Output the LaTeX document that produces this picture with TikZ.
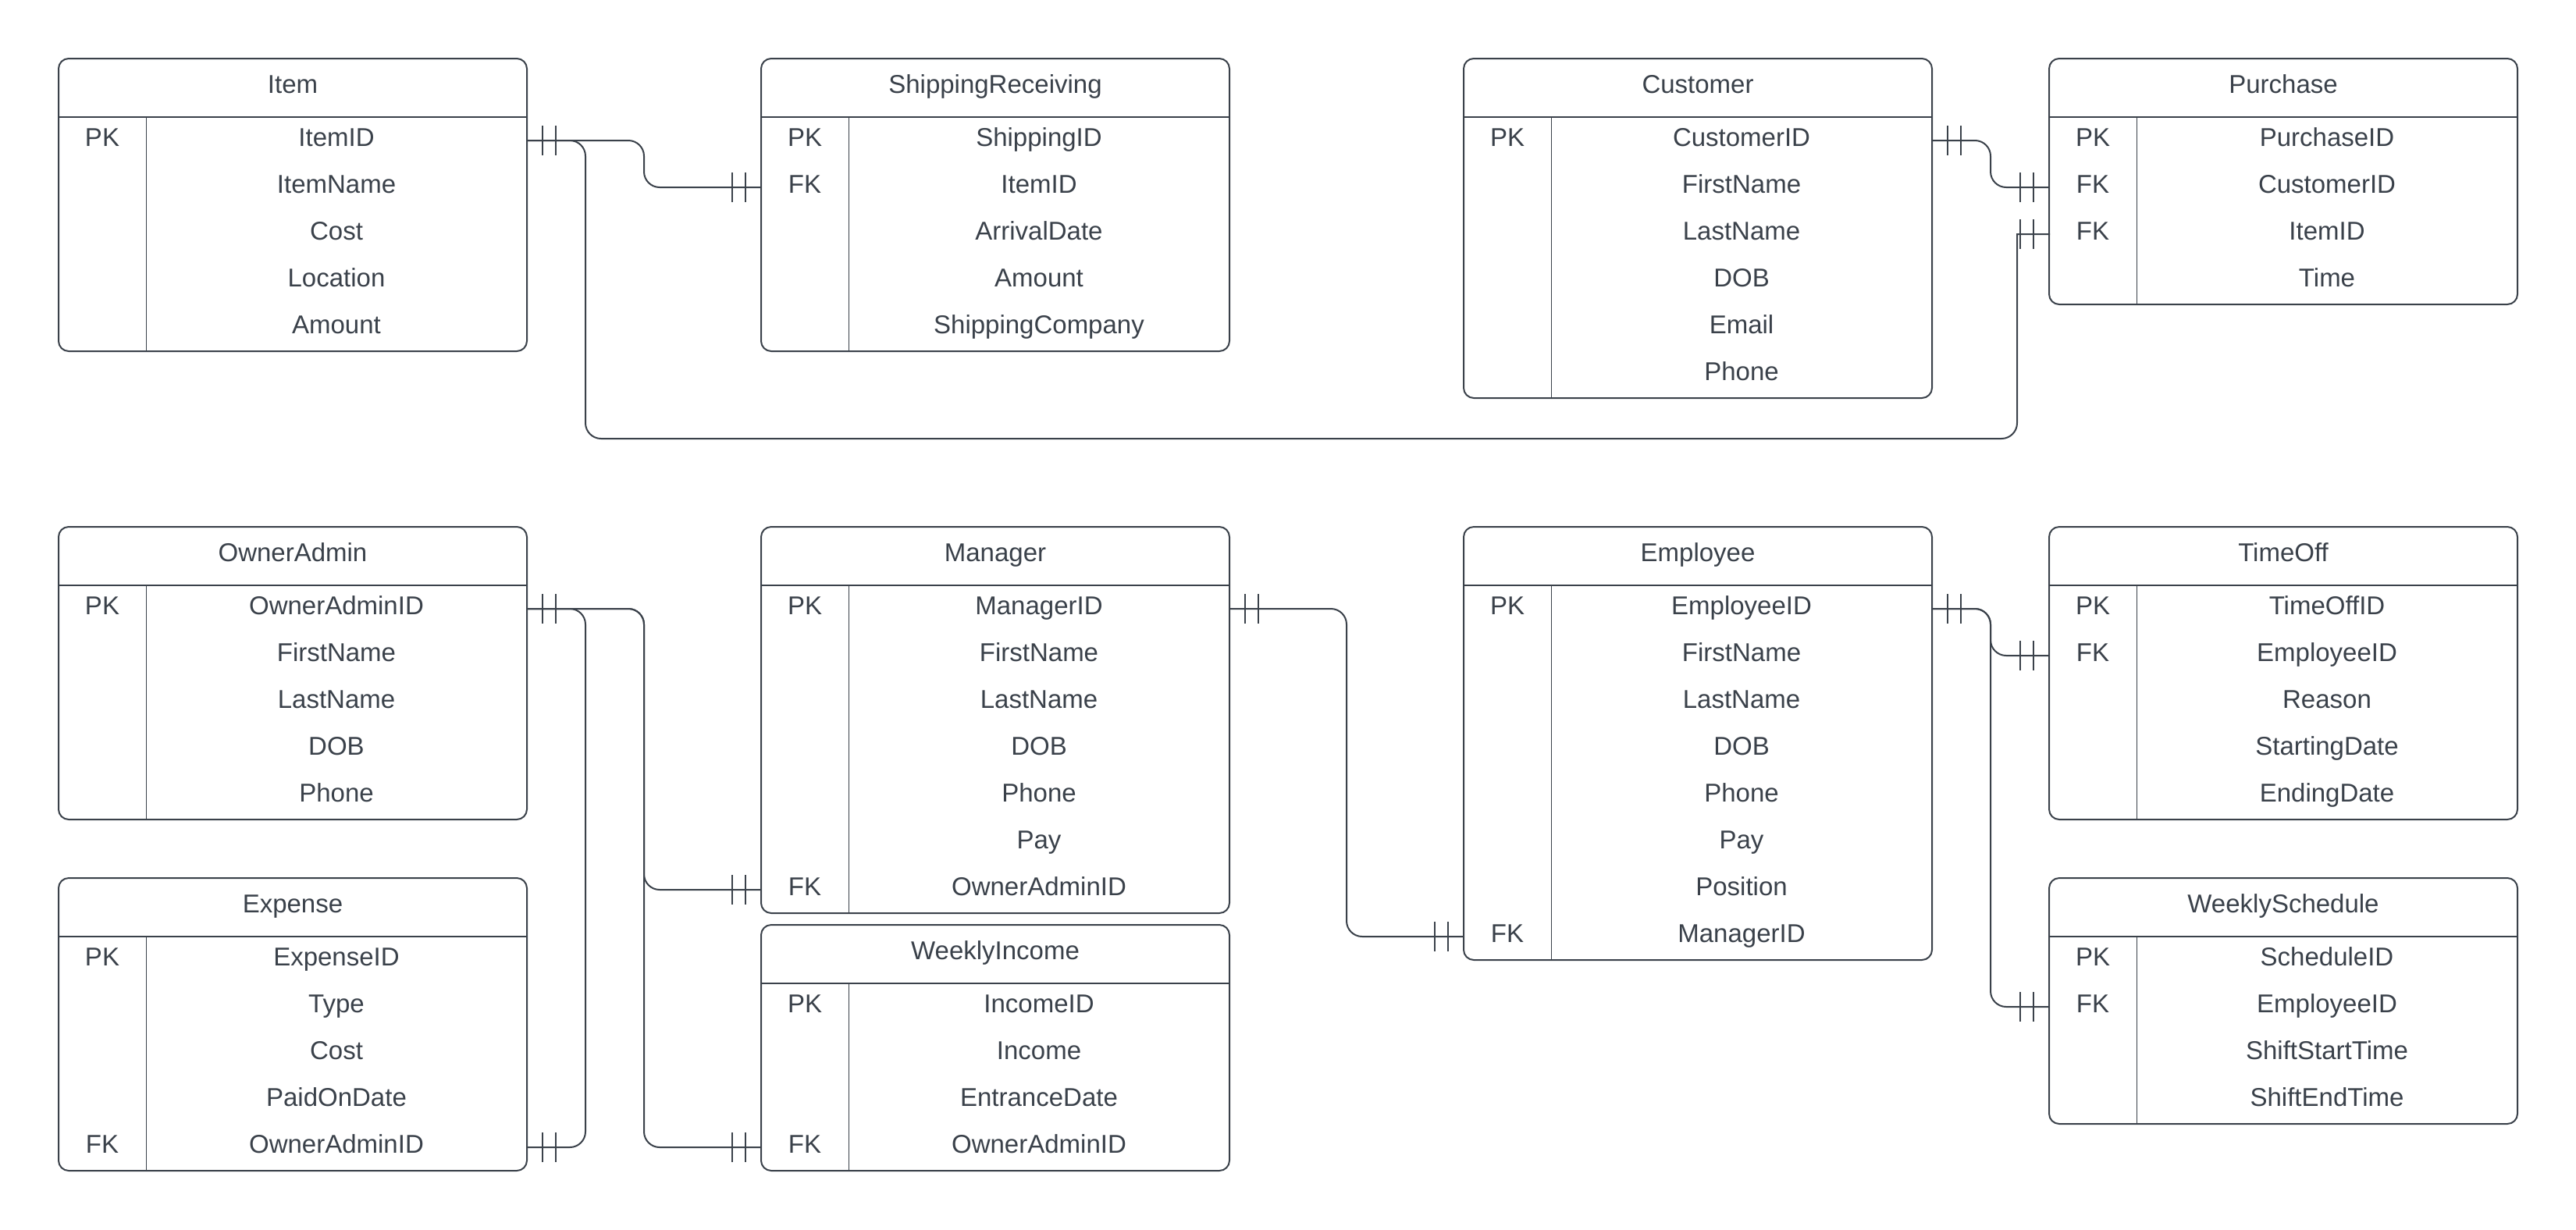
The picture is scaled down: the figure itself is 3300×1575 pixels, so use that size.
\documentclass[tikz,border=0pt]{standalone}
\usepackage{fontspec}
\setmainfont{Liberation Sans}
\usetikzlibrary{calc}
\definecolor{erc}{RGB}{58,65,74}
\tikzset{
  erbox/.style={draw=erc, line width=2pt, rounded corners=13pt, minimum width=600pt, inner sep=0pt, outer sep=0pt},
  erthick/.style={draw=erc, line width=2pt},
  erthin/.style={draw=erc, line width=1pt},
  ertext/.style={font=\fontsize{33}{40}\selectfont, text=erc, inner sep=0pt, text height=23pt, text depth=9pt},
  erconn/.style={draw=erc, line width=2pt, rounded corners=20pt},
  erbar/.style={draw=erc, line width=1.6pt}
}
% #1 name, #2 left x, #3 top y, #4 title, #5 number of rows, #6 rows key/field
\newcommand\erentity[6]{%
  \node[erbox, minimum height={75+60*#5}] (#1) at ({#2+300},{#3+(75+60*#5)/2}) {};
  \draw[erthick] ({#2},{#3+75}) -- ({#2+600},{#3+75});
  \draw[erthin] ({#2+112},{#3+75}) -- ({#2+112},{#3+75+60*#5});
  \node[ertext] (#1-t) at ({#2+300},{#3+37.5}) {#4};
  \foreach \k/\f [count=\i] in {#6} {
    \node[ertext] (#1-k\i) at ({#2+56},{#3+45+60*\i}) {\k};
    \node[ertext] (#1-\i) at ({#2+356},{#3+45+60*\i}) {\f};
  }%
}
% double bar mark: #1 end point, #2 direction (+1 right, -1 left)
\newcommand\erbars[2]{%
  \draw[erbar] ($(#1)+(#2*20,-19)$) -- ++(0,38);
  \draw[erbar] ($(#1)+(#2*37,-19)$) -- ++(0,38);
}
\begin{document}
\begin{tikzpicture}[x=1pt,y=-1pt]
\useasboundingbox (0,0) rectangle (3300,1575);

\erentity{item}{75}{75}{Item}{5}{PK/ItemID, /ItemName, /Cost, /Location, /Amount}
\erentity{ship}{975}{75}{ShippingReceiving}{5}{PK/ShippingID, FK/ItemID, /ArrivalDate, /Amount, /ShippingCompany}
\erentity{cust}{1875}{75}{Customer}{6}{PK/CustomerID, /FirstName, /LastName, /DOB, /Email, /Phone}
\erentity{purch}{2625}{75}{Purchase}{4}{PK/PurchaseID, FK/CustomerID, FK/ItemID, /Time}
\erentity{own}{75}{675}{OwnerAdmin}{5}{PK/OwnerAdminID, /FirstName, /LastName, /DOB, /Phone}
\erentity{exp}{75}{1125}{Expense}{5}{PK/ExpenseID, /Type, /Cost, /PaidOnDate, FK/OwnerAdminID}
\erentity{mgr}{975}{675}{Manager}{7}{PK/ManagerID, /FirstName, /LastName, /DOB, /Phone, /Pay, FK/OwnerAdminID}
\erentity{inc}{975}{1185}{WeeklyIncome}{4}{PK/IncomeID, /Income, /EntranceDate, FK/OwnerAdminID}
\erentity{emp}{1875}{675}{Employee}{8}{PK/EmployeeID, /FirstName, /LastName, /DOB, /Phone, /Pay, /Position, FK/ManagerID}
\erentity{toff}{2625}{675}{TimeOff}{5}{PK/TimeOffID, FK/EmployeeID, /Reason, /StartingDate, /EndingDate}
\erentity{week}{2625}{1125}{WeeklySchedule}{4}{PK/ScheduleID, FK/EmployeeID, /ShiftStartTime, /ShiftEndTime}

% connectors
\draw[erconn] (item-1 -| item.east) -- ++(150,0) |- (ship-2 -| ship.west);
\draw[erconn, line cap=rect] (item-1 -| item.east) -- ++(75,0) -- ++(0,382) -| ($(purch-3 -| purch.west)+(-41,0)$) coordinate (pcorner) (pcorner) -- (purch-3 -| purch.west);
\draw[erconn] (cust-1 -| cust.east) -- ++(75,0) |- (purch-2 -| purch.west);
\draw[erconn] (own-1 -| own.east) -- ++(150,0) |- (mgr-7 -| mgr.west);
\draw[erconn] (own-1 -| own.east) -- ++(150,0) |- (inc-4 -| inc.west);
\draw[erconn] (own-1 -| own.east) -- ++(75,0) |- (exp-5 -| exp.east);
\draw[erconn] (mgr-1 -| mgr.east) -- ++(150,0) |- (emp-8 -| emp.west);
\draw[erconn] (emp-1 -| emp.east) -- ++(75,0) |- (toff-2 -| toff.west);
\draw[erconn] (emp-1 -| emp.east) -- ++(75,0) |- (week-2 -| week.west);

% cardinality marks
\erbars{item-1 -| item.east}{1}
\erbars{ship-2 -| ship.west}{-1}
\erbars{purch-3 -| purch.west}{-1}
\erbars{cust-1 -| cust.east}{1}
\erbars{purch-2 -| purch.west}{-1}
\erbars{own-1 -| own.east}{1}
\erbars{mgr-7 -| mgr.west}{-1}
\erbars{inc-4 -| inc.west}{-1}
\erbars{exp-5 -| exp.east}{1}
\erbars{mgr-1 -| mgr.east}{1}
\erbars{emp-8 -| emp.west}{-1}
\erbars{emp-1 -| emp.east}{1}
\erbars{toff-2 -| toff.west}{-1}
\erbars{week-2 -| week.west}{-1}
\end{tikzpicture}
\end{document}
